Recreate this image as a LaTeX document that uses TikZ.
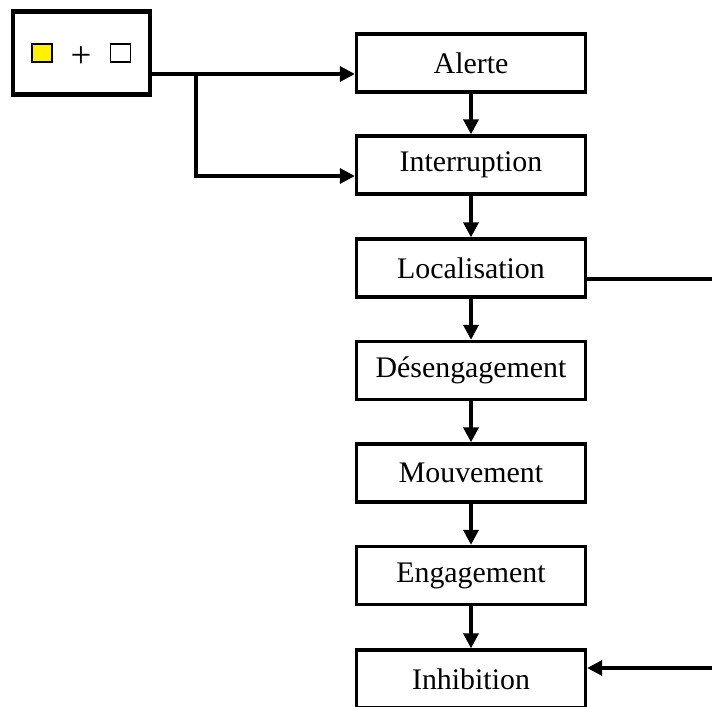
\documentclass[tikz,border=0pt]{standalone}
\usepackage{fontspec}
\setmainfont{Liberation Serif}
\usetikzlibrary{arrows.meta}

\begin{document}
\begin{tikzpicture}[x=0.02cm,y=-0.02cm,
  boite/.style={draw,line width=1.9pt,minimum width=4.58cm,minimum height=1.16cm,inner sep=0pt,font=\fontsize{17}{20}\selectfont},
  fleche/.style={line width=1.9pt,-{Triangle[length=8.5pt,width=8.5pt]}},
  carre/.style={draw,line width=0.7pt,minimum width=0.4cm,minimum height=0.36cm,inner sep=0pt}]
\useasboundingbox (0,0) rectangle (712,706);
\clip (0,0) rectangle (712,706);
\node[draw,line width=2.8pt,minimum width=2.74cm,minimum height=1.65cm] (stimuli) at (81.5,53) {};
\node[carre,fill=yellow] (jaune) at (42,53) {};
\node[font=\fontsize{21}{24}\selectfont,inner sep=0pt] (plus) at (81,57) {+};
\node[carre,fill=white] (blanc) at (120.5,53) {};
\node[boite] (alerte) at (471,63) {Alerte};
\node[boite] (interruption) at (471,165) {Interruption};
\node[boite] (localisation) at (471,268) {Localisation};
\node[boite] (desengagement) at (471,370.5) {Désengagement};
\node[boite] (mouvement) at (471,473) {Mouvement};
\node[boite] (engagement) at (471,575.5) {Engagement};
\node[boite] (inhibition) at (471,679) {Inhibition};
\coordinate (split) at (196,74);
\coordinate (coude) at (196,176);
\coordinate (bordA) at (712,279);
\coordinate (bordB) at (712,668);
\draw[fleche] (stimuli.east |- split) -- (alerte.west |- split);
\draw[fleche] (split) -- (coude) -- (interruption.west |- coude);
\draw[fleche] (alerte) -- (interruption);
\draw[fleche] (interruption) -- (localisation);
\draw[fleche] (localisation) -- (desengagement);
\draw[fleche] (desengagement) -- (mouvement);
\draw[fleche] (mouvement) -- (engagement);
\draw[fleche] (engagement) -- (inhibition);
\draw[line width=1.9pt] (localisation.east |- bordA) -- (bordA);
\draw[fleche] (bordB) -- (inhibition.east |- bordB);
\end{tikzpicture}
\end{document}
